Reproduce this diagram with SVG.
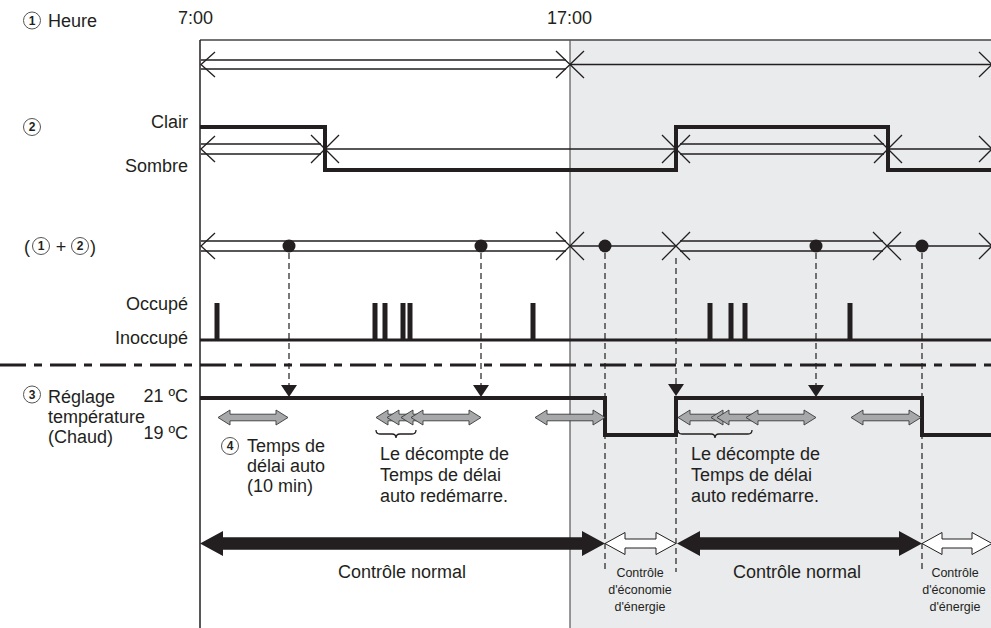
<svg xmlns="http://www.w3.org/2000/svg" width="991" height="628" viewBox="0 0 991 628">
<style>
.t{font-family:"Liberation Sans",Arial,sans-serif;font-size:18px;fill:#231f20}
.r{text-anchor:end}
.m{text-anchor:middle}
.s{font-family:"Liberation Sans",Arial,sans-serif;font-size:12.5px;fill:#231f20;text-anchor:middle}
.n{font-family:"Liberation Sans",Arial,sans-serif;font-size:12px;font-weight:bold;fill:#231f20;text-anchor:middle}
.c{fill:none;stroke:#555;stroke-width:1}
.ln{fill:none;stroke:#231f20;stroke-width:1.3}
.thick{fill:none;stroke:#231f20;stroke-width:4}
.dash{fill:none;stroke:#231f20;stroke-width:1.2;stroke-dasharray:6 4}
.tri{fill:#231f20}
.ga{fill:#a7a8aa;stroke:#3a3a3a;stroke-width:0.9}
.ba{fill:#231f20}
.wa{fill:#fff;stroke:#231f20;stroke-width:1}
.pulse{fill:#231f20}
</style>
<defs>
<path id="garrow" d="M0,0 L12,-7.5 L12,-3.3 L58,-3.3 L58,-7.5 L70,0 L58,7.5 L58,3.3 L12,3.3 L12,7.5 Z"/>
</defs>

<g id="background">
<rect x="570" y="40" width="421" height="588" fill="#eaebed"/>
<path d="M200,40 H991" stroke="#444" stroke-width="1.3" fill="none"/>
<path d="M570,40 V628" stroke="#555" stroke-width="1.2" fill="none"/>
<path d="M200,40 V628" stroke="#231f20" stroke-width="1.5" fill="none"/>
</g>

<g id="labels">
<g id="lbl-heure">
<circle class="c" cx="32" cy="20.5" r="8.5"/><text class="n" x="32" y="25">1</text>
<text class="t" x="48" y="27">Heure</text>
</g>
<text class="t" x="178" y="24">7:00</text>
<text class="t" x="547" y="24">17:00</text>
<g id="lbl-2">
<circle class="c" cx="32" cy="127" r="8.5"/><text class="n" x="32" y="131.3">2</text>
</g>
<text class="t r" x="188" y="128">Clair</text>
<text class="t r" x="188" y="172">Sombre</text>
<g id="lbl-12">
<text class="t" x="24" y="253">(</text>
<circle class="c" cx="41" cy="246" r="8.5"/><text class="n" x="41" y="250.3">1</text>
<text class="t m" x="61" y="253">+</text>
<circle class="c" cx="80" cy="246" r="8.5"/><text class="n" x="80" y="250.3">2</text>
<text class="t" x="90" y="253">)</text>
</g>
<text class="t r" x="188" y="310">Occupé</text>
<text class="t r" x="188" y="344">Inoccupé</text>
<g id="lbl-3">
<circle class="c" cx="32" cy="394.5" r="8.5"/><text class="n" x="32" y="398.8">3</text>
<text class="t" x="48" y="403">Réglage</text>
<text class="t" x="48" y="423">température</text>
<text class="t" x="48" y="443">(Chaud)</text>
</g>
<text class="t r" x="188" y="402">21 ºC</text>
<text class="t r" x="188" y="439">19 ºC</text>
<g id="lbl-4">
<circle class="c" cx="230" cy="446" r="8.5"/><text class="n" x="230" y="450.3">4</text>
<text class="t" x="247" y="452">Temps de</text>
<text class="t" x="247" y="472">délai auto</text>
<text class="t" x="247" y="492">(10 min)</text>
</g>
<g id="lbl-restart1">
<text class="t" x="380" y="460">Le décompte de</text>
<text class="t" x="380" y="481">Temps de délai</text>
<text class="t" x="380" y="502">auto redémarre.</text>
</g>
<g id="lbl-restart2">
<text class="t" x="691" y="460">Le décompte de</text>
<text class="t" x="691" y="481">Temps de délai</text>
<text class="t" x="691" y="502">auto redémarre.</text>
</g>
<text class="t m" x="402" y="578">Contrôle normal</text>
<text class="t m" x="797" y="578">Contrôle normal</text>
<g id="lbl-eco1">
<text class="s" x="640" y="577">Contrôle</text>
<text class="s" x="640" y="594">d'économie</text>
<text class="s" x="640" y="611">d'énergie</text>
</g>
<g id="lbl-eco2">
<text class="s" x="955" y="577">Contrôle</text>
<text class="s" x="954" y="594">d'économie</text>
<text class="s" x="955" y="611">d'énergie</text>
</g>
</g>

<g id="row-heure">
<path class="ln" d="M201,60 H566 M201,69 H566 M570,64.5 H991"/>
<path class="ln" d="M215,52 L201,64.5 L215,77"/>
<path class="ln" d="M556,51 L584,78 M556,78 L584,51"/>
<path class="ln" d="M979,52 L992,64.5 L979,77"/>
</g>

<g id="row-clair">
<path class="thick" d="M200,127 H325 V170 H676 V127 H888 V170 H991"/>
<path class="ln" d="M201,144 H321 M201,154 H321 M325,149 H676 M680,144 H884 M680,154 H884 M888,149 H991"/>
<path class="ln" d="M215,136 L201,149 L215,162"/>
<path class="ln" d="M311,135 L339,163 M311,163 L339,135"/>
<path class="ln" d="M662,135 L690,163 M662,163 L690,135"/>
<path class="ln" d="M874,135 L902,163 M874,163 L902,135"/>
<path class="ln" d="M979,136 L992,149 L979,162"/>
</g>

<g id="row-combined">
<path class="ln" d="M201,241 H566 M201,251 H566 M570,246 H676 M680,241 H883 M680,251 H883 M887,246 H991"/>
<path class="ln" d="M215,233 L201,246 L215,259"/>
<path class="ln" d="M556,232 L584,260 M556,260 L584,232"/>
<path class="ln" d="M662,232 L690,260 M662,260 L690,232"/>
<path class="ln" d="M873,232 L901,260 M873,260 L901,232"/>
<path class="ln" d="M979,233 L992,246 L979,259"/>
<circle cx="289" cy="246" r="6.5" fill="#231f20"/>
<circle cx="481" cy="246" r="6.5" fill="#231f20"/>
<circle cx="605" cy="246" r="6.5" fill="#231f20"/>
<circle cx="816" cy="246" r="6.5" fill="#231f20"/>
<circle cx="922" cy="246" r="6.5" fill="#231f20"/>
</g>

<g id="row-occupancy">
<path d="M200,340 H991" stroke="#231f20" stroke-width="3" fill="none"/>
<rect class="pulse" x="214.5" y="303" width="5" height="37"/>
<rect class="pulse" x="372.5" y="303" width="5" height="37"/>
<rect class="pulse" x="382.5" y="303" width="5" height="37"/>
<rect class="pulse" x="400.5" y="303" width="5" height="37"/>
<rect class="pulse" x="407.5" y="303" width="5" height="37"/>
<rect class="pulse" x="530.5" y="303" width="5" height="37"/>
<rect class="pulse" x="707.5" y="303" width="5" height="37"/>
<rect class="pulse" x="728.5" y="303" width="5" height="37"/>
<rect class="pulse" x="742.5" y="303" width="5" height="37"/>
<rect class="pulse" x="847.5" y="303" width="5" height="37"/>
</g>

<g id="separator">
<path d="M0,365 H991" stroke="#231f20" stroke-width="3" stroke-dasharray="26 8 8 8" fill="none"/>
</g>

<g id="connectors">
<path class="dash" d="M289,253 V385 M481,253 V385 M605,253 V572 M676,258 V572 M816,253 V385 M922,253 V572"/>
<path class="tri" d="M281,385 H297 L289,397 Z"/>
<path class="tri" d="M473,385 H489 L481,397 Z"/>
<path class="tri" d="M668,384 H684 L676,396 Z"/>
<path class="tri" d="M808,385 H824 L816,397 Z"/>
</g>

<g id="row-temperature">
<path class="thick" d="M200,398 H605 V435 H676 V398 H922 V435 H991"/>
</g>

<g id="delay-arrows">
<use href="#garrow" class="ga" x="218" y="417.5"/>
<path class="ga" d="M376,417.5 L388,410 L388,414.2 L395,414.2 L395,420.8 L388,420.8 L388,425 Z"/>
<path class="ga" d="M387,417.5 L399,410 L399,414.2 L409,414.2 L409,420.8 L399,420.8 L399,425 Z"/>
<path class="ga" d="M401,417.5 L413,410 L413,414.2 L419,414.2 L419,420.8 L413,420.8 L413,425 Z"/>
<use href="#garrow" class="ga" x="411" y="417.5"/>
<use href="#garrow" class="ga" x="535" y="417.5"/>
<path class="ga" d="M678,417.5 L690,410 L690,414.2 L719,414.2 L719,420.8 L690,420.8 L690,425 Z"/>
<path class="ga" d="M711,417.5 L723,410 L723,414.2 L725,414.2 L725,420.8 L723,420.8 L723,425 Z"/>
<path class="ga" d="M717,417.5 L729,410 L729,414.2 L754,414.2 L754,420.8 L729,420.8 L729,425 Z"/>
<use href="#garrow" class="ga" x="746" y="417.5"/>
<use href="#garrow" class="ga" x="851" y="417.5"/>
<path class="ln" d="M376,430 Q376,434 380,434 H392 Q396,434 396,438 Q396,434 400,434 H412 Q416,434 416,430"/>
<path class="ln" d="M678,430 Q678,434 682,434 H711 Q715,434 715,438 Q715,434 719,434 H748 Q752,434 752,430"/>
</g>

<g id="mode-arrows">
<path class="ba" d="M200,543.5 L223,531 L223,537.3 L582,537.3 L582,531 L605,543.5 L582,556 L582,549.7 L223,549.7 L223,556 Z"/>
<path class="wa" d="M605,543.5 L625,532.5 L625,539 L656,539 L656,532.5 L676,543.5 L656,554.5 L656,548 L625,548 L625,554.5 Z"/>
<path class="ba" d="M677,543.5 L700,531 L700,537.3 L899,537.3 L899,531 L922,543.5 L899,556 L899,549.7 L700,549.7 L700,556 Z"/>
<path class="wa" d="M922,543.5 L942,532.5 L942,539 L972,539 L972,532.5 L992,543.5 L972,554.5 L972,548 L942,548 L942,554.5 Z"/>
</g>
</svg>
